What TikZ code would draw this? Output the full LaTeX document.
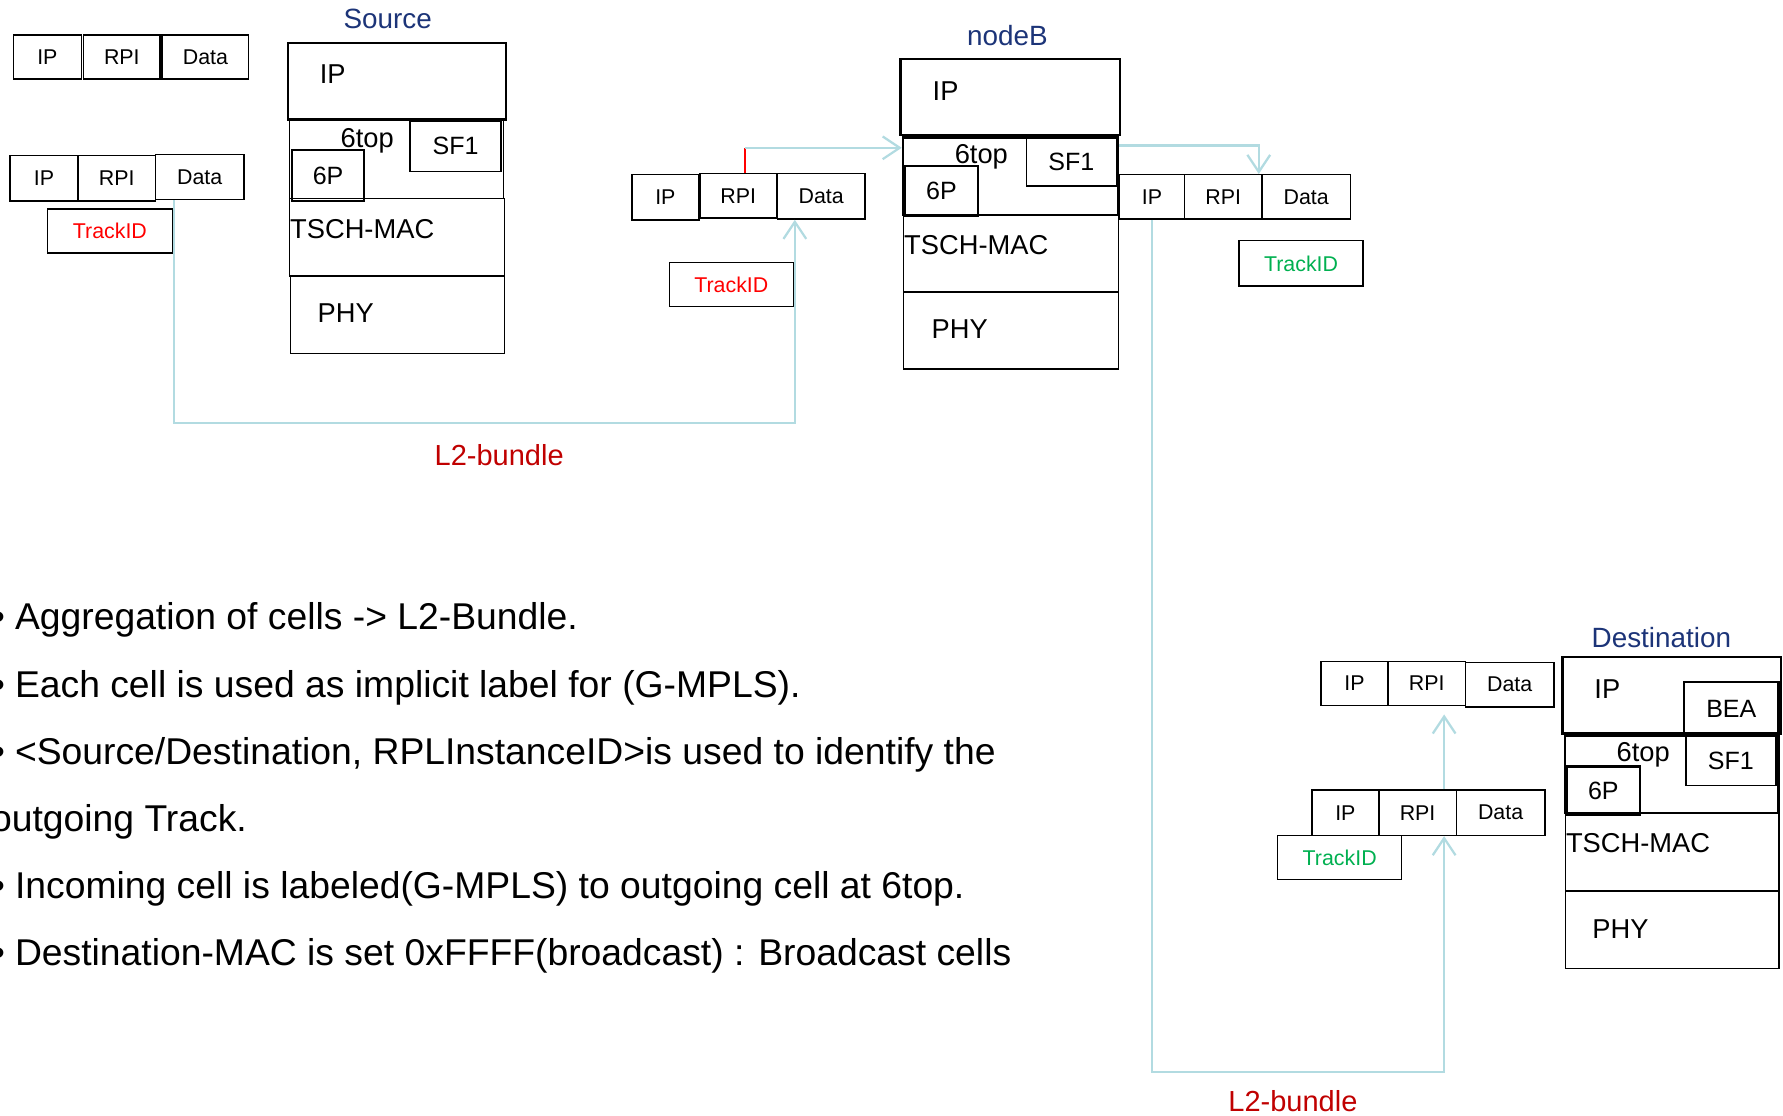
\documentclass[tikz,border=0pt]{standalone}
\usepackage{fontspec}
\setmainfont{Liberation Sans}
\usetikzlibrary{arrows.meta,calc}
\definecolor{navy}{RGB}{28,52,120}
\definecolor{connblue}{RGB}{178,219,225}
\definecolor{darkred}{RGB}{192,0,0}
\definecolor{trgreen}{RGB}{0,176,80}
\newcommand\bx[7][]{\node[box,minimum width={#5-#3},minimum height={#6-#4},#1] (#2) at (#3,#4) {#7};}
\begin{document}
\begin{tikzpicture}[x=1pt,y=-1pt,
  box/.style={draw=black,line width=1.3pt,inner sep=0pt,anchor=north west,font=\fontsize{18.8}{18.8}\selectfont},
  thick box/.style={line width=2pt},
  lyr/.style={inner sep=0pt,font=\fontsize{24}{24}\selectfont},
  small lyr/.style={font=\fontsize{22}{22}\selectfont},
  title/.style={inner sep=0pt,text=navy,font=\fontsize{24.5}{24.5}\selectfont},
  bundle/.style={inner sep=0pt,text=darkred,font=\fontsize{25.5}{25.5}\selectfont},
  bullettext/.style={inner sep=0pt,anchor=base west,font=\fontsize{32.8}{32.8}\selectfont},
  bulletdot/.style={inner sep=0pt,anchor=base east,font=\fontsize{32.8}{32.8}\selectfont},
  conn/.style={draw=connblue,line width=2pt},
  tipV/.tip={Straight Barb[length=15pt,width=20pt]},
  redtick/.style={draw=red,line width=1.5pt}]
\useasboundingbox (0,0) rectangle (1568,981);

% ---------- packets ----------
\bx{pAI}{11}{30}{71}{69}{IP}
\bx{pAR}{73}{30}{140}{69}{RPI}
\bx{pAD}{142}{30}{218}{69}{Data}

\bx{pBI}{8}{136}{68}{176}{IP}
\bx{pBR}{68}{136}{136}{176}{RPI}
\bx{pBD}{136}{135}{214}{175}{Data}
\bx[text=red]{pBT}{41}{183}{151}{222}{TrackID}

\bx{mpI}{555}{153}{614}{193}{IP}
\bx{mpR}{615}{152}{682}{191}{RPI}
\bx{mpD}{683}{152}{760}{192}{Data}
\bx[text=red]{mpT}{588}{230}{697}{269}{TrackID}

\bx{rpI}{984}{153}{1041}{192}{IP}
\bx{rpR}{1041}{153}{1109}{192}{RPI}
\bx{rpD}{1109}{153}{1187}{192}{Data}
\bx[text=trgreen]{rpT}{1089}{211}{1198}{251}{TrackID}

\bx{dAI}{1161}{581}{1220}{620}{IP}
\bx{dAR}{1220}{581}{1288}{620}{RPI}
\bx{dAD}{1288}{582}{1366}{621}{Data}

\bx{dBI}{1153}{694}{1212}{734}{IP}
\bx{dBR}{1212}{694}{1280}{734}{RPI}
\bx{dBD}{1280}{694}{1358}{734}{Data}
\bx[text=trgreen]{dBT}{1123}{734}{1232}{773}{TrackID}

% ---------- Source stack ----------
\node[title] (srcT) at (341,17) {Source};
\bx[thick box]{sIP}{252}{37}{444}{104}{}
\node[lyr,anchor=base west] (sIPt) at (281,73) {IP};
\bx{sTop}{254}{105}{442}{174}{}
\node[lyr,anchor=base] (sTopt) at (323,130) {6top};
\bx[small lyr]{sSF}{360}{106}{440}{150}{SF1}
\bx[thick box,small lyr]{s6P}{256}{131}{319}{176}{6P}
\bx{sMAC}{254}{174}{443}{242}{}
\node[lyr,anchor=base west] (sMACt) at (255,210) {TSCH-MAC};
\bx{sPHY}{255}{242}{443}{310}{}
\node[lyr,anchor=base] (sPHYt) at (304,284) {PHY};

% ---------- nodeB stack ----------
\node[title] (nbT) at (886,31) {nodeB};
\bx[thick box]{nIP}{791}{51}{984}{118}{}
\node[lyr,anchor=base west] (nIPt) at (820,88) {IP};
\bx[thick box]{nTop}{793}{120}{982}{188}{}
\node[lyr,anchor=base] (nTopt) at (863,144) {6top};
\bx[small lyr]{nSF}{902}{121}{981}{163}{SF1}
\bx[thick box,small lyr]{n6P}{795}{145}{859}{189}{6P}
\bx{nMAC}{794}{188}{983}{256}{}
\node[lyr,anchor=base west] (nMACt) at (795,224) {TSCH-MAC};
\bx{nPHY}{794}{256}{983}{324}{}
\node[lyr,anchor=base] (nPHYt) at (844,298) {PHY};

% ---------- Destination stack ----------
\node[title] (dsT) at (1461,561) {Destination};
\bx[thick box]{dIP}{1373}{577}{1565}{644}{}
\node[lyr,anchor=base west] (dIPt) at (1402,614) {IP};
\bx[thick box,small lyr]{dBEA}{1480}{599}{1563}{645}{BEA}
\bx[thick box]{dTop}{1375}{646}{1563}{714}{}
\node[lyr,anchor=base] (dTopt) at (1445,670) {6top};
\bx[small lyr]{dSF}{1482}{647}{1561}{690}{SF1}
\bx[thick box,small lyr]{d6P}{1377}{673}{1441}{716}{6P}
\bx{dMAC}{1376}{714}{1564}{783}{}
\node[lyr,anchor=base west] (dMACt) at (1377,750) {TSCH-MAC};
\bx{dPHY}{1376}{783}{1564}{851}{}
\node[lyr,anchor=base] (dPHYt) at (1425,825) {PHY};

% ---------- connectors ----------
\coordinate (c1a) at (153,176);
\coordinate (c1b) at (153,372);
\coordinate (c1c) at (699,372);
\draw[conn,-tipV] (c1a) -- (c1b) -- (c1c) -- (c1c |- mpD.south);

\coordinate (c2a) at (655,130);
\draw[redtick] (c2a) -- (c2a |- mpR.north);
\draw[conn,-tipV] (c2a) -- (c2a -| nTop.west);

\coordinate (c3b) at (1107,128);
\draw[conn,-tipV] (c3b -| nTop.east) -- (c3b) -- (c3b |- rpD.north);

\coordinate (c4a) at (1013,943);
\coordinate (c4b) at (1270,943);
\draw[conn,-tipV] (c4a |- rpI.south) -- (c4a) -- (c4b) -- (c4b |- dBR.south);
\draw[conn,-tipV] (c4b |- dBR.north) -- ($(c4b |- dAR.south)+(0,7)$);

\node[bundle] (lb1) at (439,400) {L2-bundle};
\node[bundle] (lb2) at (1137,968) {L2-bundle};

% ---------- bullet text ----------
\node[bulletdot] (b1) at (4.6,554) {•};
\node[bullettext] (t1) at (13,554) {Aggregation of cells -> L2-Bundle.};
\node[bulletdot] (b2) at (4.6,613) {•};
\node[bullettext] (t2) at (13,613) {Each cell is used as implicit label for (G-MPLS).};
\node[bulletdot] (b3) at (4.6,672) {•};
\node[bullettext] (t3) at (13,672) {<Source/Destination, RPLInstanceID>is used to identify the};
\node[bullettext] (t4) at (-8,731) {outgoing Track.};
\node[bulletdot] (b5) at (4.6,790) {•};
\node[bullettext] (t5) at (13,790) {Incoming cell is labeled(G-MPLS) to outgoing cell at 6top.};
\node[bulletdot] (b6) at (4.6,849) {•};
\node[bullettext] (t6) at (13,849) {Destination-MAC is set 0xFFFF(broadcast) : Broadcast cells};
\end{tikzpicture}
\end{document}
